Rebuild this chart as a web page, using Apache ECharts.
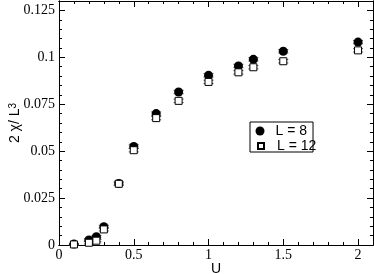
<!DOCTYPE html>
<html><head><meta charset="utf-8">
<script src="https://cdn.jsdelivr.net/npm/echarts@6/dist/echarts.min.js"></script>
<style>html,body{margin:0;padding:0;background:#fff}#c{width:374px;height:274px}</style>
</head><body><div id="c"></div>
<script>
const U = [0.1, 0.2, 0.25, 0.3, 0.4, 0.5, 0.65, 0.8, 1.0, 1.2, 1.3, 1.5, 2.0];
const chiL8 = [0.0005, 0.0027, 0.0044, 0.0097, 0.0328, 0.0525, 0.0700, 0.0815, 0.0904, 0.0954, 0.0989, 0.1032, 0.1081];
const chiL12 = [0.0003, 0.0012, 0.0023, 0.0083, 0.0326, 0.0505, 0.0676, 0.0768, 0.0869, 0.0920, 0.0947, 0.0979, 0.1037];
const err8 = [0.0003, 0.0006, 0.0006, 0.0008, 0.0008, 0.0009, 0.0009, 0.0009, 0.0009, 0.0009, 0.0009, 0.0009, 0.0009];
const err12 = [0.0003, 0.0006, 0.0006, 0.0008, 0.0008, 0.0009, 0.0009, 0.0009, 0.0009, 0.0009, 0.0009, 0.0009, 0.0009];
const xMajor = [0, 0.5, 1, 1.5, 2];
const xMinor = [0.1,0.2,0.3,0.4,0.6,0.7,0.8,0.9,1.1,1.2,1.3,1.4,1.6,1.7,1.8,1.9];
const yMajor = [0, 0.025, 0.05, 0.075, 0.1, 0.125];
const yMinor = [];
for (let i = 1; i < 26; i++) { if (i % 5) yMinor.push(+(i * 0.005).toFixed(3)); }

const serif = 'Liberation Serif';
const sans = 'Liberation Sans';
const fmt = v => String(+v.toFixed(3));
const xFmt = v => (v <= 2.0001 ? fmt(v) : '');
const yFmt = v => (v <= 0.1251 ? fmt(v) : '');

function xAx(pos, ticks, len, labels) {
  return {
    type: 'value', min: 0, max: 2.1, interval: 0.5, position: pos, gridIndex: 0,
    axisLine: { show: true, onZero: false, lineStyle: { color: '#000', width: 1 } },
    splitLine: { show: false },
    axisTick: { show: true, inside: true, length: len, customValues: ticks, lineStyle: { color: '#000' } },
    axisLabel: labels ? { show: true, showMinLabel: true, formatter: xFmt, fontFamily: serif, fontSize: 14, color: '#000', margin: 3,
      textStyle: { fontFamily: serif, fontSize: 14, color: '#000' } } : { show: false },
    name: labels ? 'U' : '', nameLocation: 'middle', nameGap: 17, nameMoveOverlap: false,
    nameTextStyle: { fontFamily: sans, fontSize: 14, color: '#000' }
  };
}
function yAx(pos, ticks, len, labels) {
  return {
    type: 'value', min: 0, max: 0.13, interval: 0.025, position: pos, gridIndex: 0,
    axisLine: { show: true, onZero: false, lineStyle: { color: '#000', width: 1 } },
    splitLine: { show: false },
    axisTick: { show: true, inside: true, length: len, customValues: ticks, lineStyle: { color: '#000' } },
    axisLabel: labels ? { show: true, showMinLabel: true, formatter: yFmt, fontFamily: serif, fontSize: 14, color: '#000', margin: 4,
      textStyle: { fontFamily: serif, fontSize: 14, color: '#000' } } : { show: false },
    name: labels ? '{a|2 χ/ L}{b|3}' : '', nameLocation: 'middle', nameGap: 37, nameRotate: 90, nameMoveOverlap: false,
    nameTextStyle: { fontFamily: sans, fontSize: 14, color: '#000',
      rich: { a: { fontFamily: sans, fontSize: 14, color: '#000' }, b: { fontFamily: sans, fontSize: 10, color: '#000', verticalAlign: 'top' } } }
  };
}

function errSeries(vals, errs) {
  return {
    type: 'custom', xAxisIndex: 0, yAxisIndex: 0, z: 1, silent: true,
    data: U.map((u, i) => [u, vals[i], errs[i]]),
    renderItem: (params, api) => {
      const x = api.value(0), y = api.value(1), e = api.value(2);
      const top = api.coord([x, y + e]), bot = api.coord([x, y - e]);
      const hw = 5;
      const st = { stroke: '#555', lineWidth: 1 };
      return { type: 'group', children: [
        { type: 'line', shape: { x1: top[0], y1: top[1], x2: bot[0], y2: bot[1] }, style: st },
        { type: 'line', shape: { x1: top[0] - hw, y1: top[1], x2: top[0] + hw, y2: top[1] }, style: st },
        { type: 'line', shape: { x1: bot[0] - hw, y1: bot[1], x2: bot[0] + hw, y2: bot[1] }, style: st }
      ]};
    }
  };
}

const legendText = { fontFamily: sans, fontSize: 14, color: '#000' };
const chart = echarts.init(document.getElementById('c'), null, { renderer: 'canvas' });
chart.setOption({
  animation: false,
  textStyle: { fontFamily: serif, fontSize: 14, color: '#000' },
  grid: { left: 59, right: 1, top: 1, bottom: 29, containLabel: false, outerBoundsMode: 'none' },
  xAxis: [xAx('bottom', xMajor, 6, true), xAx('bottom', xMinor, 3, false), xAx('top', xMajor, 6, false), xAx('top', xMinor, 3, false)],
  yAxis: [yAx('left', yMajor, 6, true), yAx('left', yMinor, 3, false), yAx('right', yMajor, 6, false), yAx('right', yMinor, 3, false)],
  legend: [
    { orient: 'vertical', left: 250, top: 122, itemWidth: 9, itemHeight: 9, padding: [2, 6, 14, 5.5], z: 4,
      borderColor: '#000', borderWidth: 1, backgroundColor: '#fff',
      textStyle: Object.assign({ padding: [0, 0, 0, 6] }, legendText), data: ['L = 8'] },
    { orient: 'vertical', left: 257, top: 139, itemWidth: 6, itemHeight: 6, padding: 0, z: 6,
      textStyle: Object.assign({ padding: [0, 0, 0, 8] }, legendText), data: ['L = 12'] }
  ],
  series: [
    errSeries(chiL8, err8),
    errSeries(chiL12, err12),
    { name: 'L = 8', type: 'scatter', xAxisIndex: 0, yAxisIndex: 0, z: 3, symbol: 'circle', symbolSize: 9,
      itemStyle: { color: '#000', opacity: 1 }, data: U.map((u, i) => [u, chiL8[i]]) },
    { name: 'L = 12', type: 'scatter', xAxisIndex: 0, yAxisIndex: 0, z: 4, symbol: 'rect', symbolSize: 7,
      itemStyle: { color: '#fff', borderColor: '#000', borderWidth: 1, opacity: 1 }, data: U.map((u, i) => [u, chiL12[i]]) }
  ]
});
</script></body></html>
